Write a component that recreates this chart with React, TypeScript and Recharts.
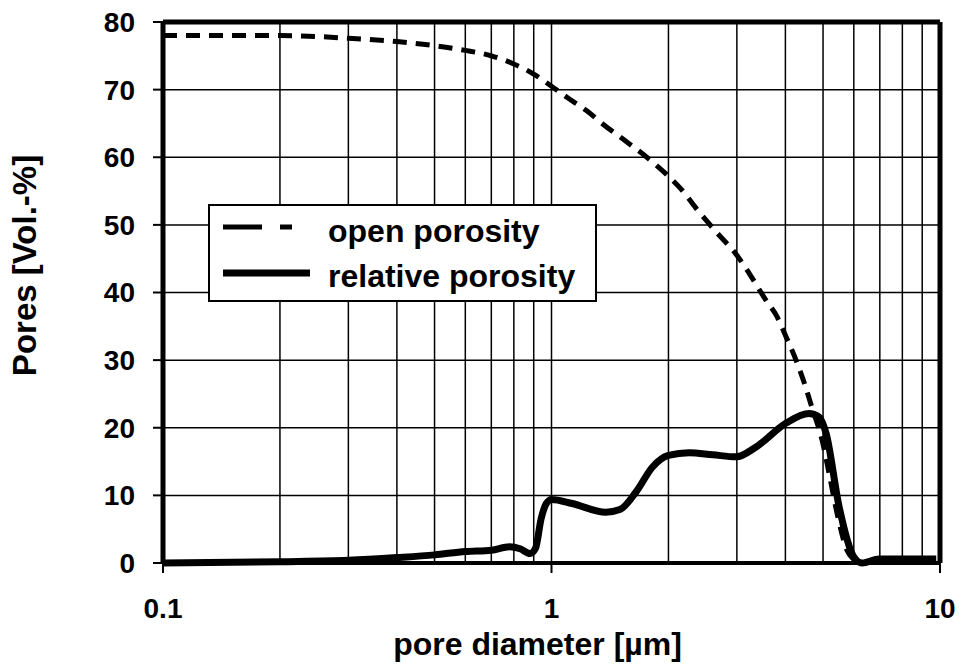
import React from 'react';
import { LineChart, Line, XAxis, YAxis, ReferenceLine, Legend } from 'recharts';

const openX = [0.1, 0.15, 0.2, 0.3, 0.4, 0.5, 0.6, 0.7, 0.8, 0.9, 1.0, 1.1, 1.23, 1.37, 1.56, 1.82, 2.0, 2.17, 2.36, 2.65, 3.0, 3.23, 3.57, 3.8, 4.02, 4.26, 4.47, 4.68, 4.97, 5.18, 5.45, 5.75, 6.0];
const openY = [78, 78, 78, 77.6, 77.1, 76.5, 75.8, 75.0, 73.8, 72.3, 70.5, 68.8, 66.9, 64.7, 62.3, 59.3, 57.2, 55.1, 52.4, 49.0, 45.5, 42.8, 38.8, 36.5, 33.4, 30, 26.7, 23, 18.2, 13.3, 7, 2, 0.5];

const relX = [0.1, 0.2, 0.3, 0.4, 0.5, 0.6, 0.7, 0.78, 0.83, 0.88, 0.91, 0.94, 0.97, 1.0, 1.13, 1.38, 1.5, 1.65, 1.82, 2.0, 2.26, 2.6, 2.99, 3.37, 4.02, 4.6, 4.88, 5.09, 5.5, 6.0, 6.3, 6.97, 9.78];
const relY = [0, 0.2, 0.4, 0.8, 1.2, 1.7, 1.9, 2.4, 2.1, 1.4, 2.2, 6.5, 8.8, 9.4, 8.8, 7.5, 7.9, 10.5, 14.2, 15.9, 16.3, 16, 15.7, 17.2, 20.7, 22.1, 21.6, 19.2, 8.3, 0.9, 0, 0.6, 0.6];

const xTicks = [0.1, 1, 10];
const yTicks = [0, 10, 20, 30, 40, 50, 60, 70, 80];
const gridX = [0.2, 0.3, 0.4, 0.5, 0.6, 0.7, 0.8, 0.9, 1, 2, 3, 4, 5, 6, 7, 8, 9];
const gridY = [10, 20, 30, 40, 50, 60, 70];

const seriesNames = ['open porosity', 'relative porosity'];
const xTitle = 'pore diameter [µm]';
const yTitle = 'Pores [Vol.-%]';

const openData = openX.map((d, i) => ({ d, v: openY[i] }));
const relData = relX.map((d, i) => ({ d, v: relY[i] }));

const FONT = '"Liberation Sans", Arial, sans-serif';

const renderLegend = () => (
  <div style={{ width: 389, height: 98, boxSizing: 'border-box', border: '2px solid #000', background: '#fff' }}>
    <svg width={385} height={94} style={{ display: 'block' }}>
      <line x1={13} y1={21} x2={84} y2={21} stroke="#000" strokeWidth={5} strokeDasharray="39 18 12 100" />
      <line x1={13} y1={67} x2={100} y2={67} stroke="#000" strokeWidth={7} />
      <text x={118} y={36} fontFamily={FONT} fontWeight="bold" fontSize={32} fill="#000">{seriesNames[0]}</text>
      <text x={118} y={81} fontFamily={FONT} fontWeight="bold" fontSize={32} fill="#000">{seriesNames[1]}</text>
    </svg>
  </div>
);

const XTitle = (props: any) => {
  const vb = props.viewBox || {};
  return (
    <text x={vb.x + vb.width / 2 - 14} y={vb.y + vb.height - 10} textAnchor="middle" fontFamily={FONT} fontWeight="bold" fontSize={32} fill="#000">
      {xTitle}
    </text>
  );
};

const YTitle = (props: any) => {
  const vb = props.viewBox || {};
  const cx = 36;
  const cy = vb.y + vb.height / 2 - 27;
  return (
    <text x={cx} y={cy} transform={`rotate(-90 ${cx} ${cy})`} textAnchor="middle" fontFamily={FONT} fontWeight="bold" fontSize={33} fill="#000">
      {yTitle}
    </text>
  );
};

export default function App() {
  return (
    <div style={{ position: 'absolute', left: 0, top: 0, width: 969, height: 665, background: '#fff' }}>
      <LineChart width={969} height={665} margin={{ top: 22, right: 29, left: 0, bottom: 0 }}>
        <XAxis
          type="number"
          dataKey="d"
          scale="log"
          domain={[0.1, 10]}
          ticks={xTicks}
          allowDataOverflow
          height={102}
          tickSize={10}
          tickMargin={25}
          tick={{ fill: '#000', fontFamily: FONT, fontWeight: 'bold', fontSize: 28 }}
          tickLine={{ stroke: '#000', strokeWidth: 2 }}
          axisLine={{ stroke: '#000', strokeWidth: 4 }}
          tickFormatter={(v: number) => String(v)}
          label={{ content: <XTitle /> }}
        />
        <YAxis
          type="number"
          domain={[0, 80]}
          ticks={yTicks}
          width={163}
          tickSize={10}
          tickMargin={18}
          tick={{ fill: '#000', fontFamily: FONT, fontWeight: 'bold', fontSize: 28 }}
          tickLine={{ stroke: '#000', strokeWidth: 2 }}
          axisLine={{ stroke: '#000', strokeWidth: 5 }}
          label={{ content: <YTitle /> }}
        />
        {gridX.map((g) => (
          <ReferenceLine key={`gx${g}`} x={g} stroke="#000" strokeWidth={1.5} />
        ))}
        {gridY.map((g) => (
          <ReferenceLine key={`gy${g}`} y={g} stroke="#000" strokeWidth={1.5} />
        ))}
        <ReferenceLine x={10} stroke="#000" strokeWidth={5} />
        <ReferenceLine y={80} stroke="#000" strokeWidth={5} />
        <Line
          data={openData}
          dataKey="v"
          name={seriesNames[0]}
          type="monotone"
          stroke="#000"
          strokeWidth={5}
          strokeDasharray="14 9"
          dot={false}
          isAnimationActive={false}
        />
        <Line
          data={relData}
          dataKey="v"
          name={seriesNames[1]}
          type="monotone"
          stroke="#000"
          strokeWidth={7}
          dot={false}
          isAnimationActive={false}
        />
        <Legend
          layout="vertical"
          align="center"
          verticalAlign="middle"
          content={renderLegend}
          wrapperStyle={{ position: 'absolute', left: 208, top: 204, width: 389, height: 98 }}
        />
      </LineChart>
    </div>
  );
}
